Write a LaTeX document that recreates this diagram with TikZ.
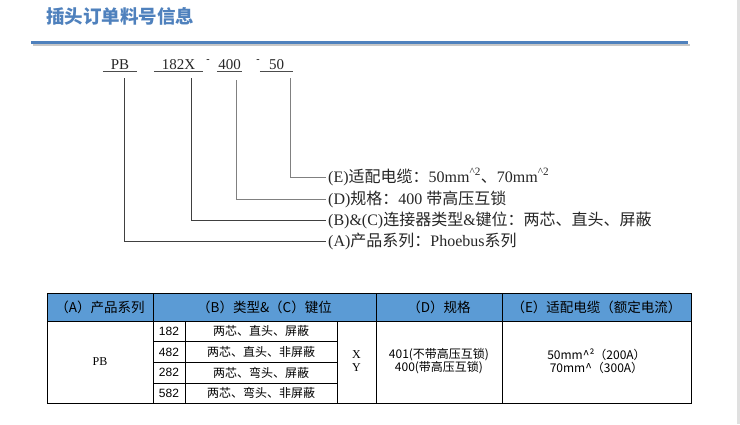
\documentclass[tikz,border=0pt]{standalone}
\usepackage{fontspec}
\setmainfont{Liberation Serif}
\setsansfont{Liberation Sans}
\newfontfamily\cjk{Noto Sans CJK SC}
\usetikzlibrary{positioning}
\definecolor{titleblue}{RGB}{79,129,189}
\definecolor{headblue}{RGB}{91,155,213}
\definecolor{edgegray}{RGB}{224,224,224}
\newcommand{\zh}[1]{{\cjk #1}}
\tikzset{
    code/.style={font=\fontsize{15}{15}\selectfont, inner sep=0pt, text=black!85}, % part of the order code
    hyph/.style={font=\fontsize{10}{10}\selectfont, inner sep=0pt},
    lbl/.style={font=\fontsize{16}{16}\selectfont, inner sep=2pt, anchor=west, text=black!85},
    lead/.style={line width=0.8pt, black!75}, % leader lines
    leadlight/.style={line width=0.8pt, black!50},
    head/.style={font=\cjk\fontsize{13.5}{14}\selectfont},
    cell/.style={font=\cjk\fontsize{12}{13}\selectfont, align=center},
    num/.style={font=\sffamily\fontsize{12}{13}\selectfont},
    ser/.style={font=\rmfamily\fontsize{12}{13}\selectfont},
    grid/.style={line width=0.8pt, black},
}
\begin{document}
\begin{tikzpicture}[x=1pt, y=-1pt]
    \useasboundingbox (0,0) rectangle (740,424);
    \fill[edgegray] (737,0) rectangle (740,424);

    % title and rule
    \node[anchor=west, inner sep=0pt, text=titleblue, font=\cjk\bfseries\fontsize{18.5}{19}\selectfont] (title) at (46,16) {插头订单料号信息};
    \fill[black!22] (33,44) rectangle (690,46);
    \draw[titleblue, line width=3pt] (31,42) -- (688,42);

    % order code
    \node[code, anchor=base, minimum width=34pt] (pb) at (120,69) {PB};
    \node[code, anchor=base, minimum width=49pt] (ser) at (178.5,69) {182X};
    \node[hyph] (h1) at (208,61) {-};
    \node[code, anchor=base, minimum width=25pt] (spec) at (229.5,69) {400};
    \node[hyph] (h2) at (258,61) {-};
    \node[code, anchor=base, minimum width=33pt] (cab) at (276.5,69) {50};
    \foreach \n in {pb, ser, spec, cab}
        \draw[line width=0.8pt, black!70] ([yshift=-2pt]\n.base west) -- ([yshift=-2pt]\n.base east);

    % labels
    \node[lbl] (le) at (326,177) {(E)\zh{适配电缆：}50mm\textsuperscript{\textasciicircum2}\zh{、}70mm\textsuperscript{\textasciicircum2}};
    \node[lbl] (ld) at (326,199) {(D)\zh{规格：}400 \zh{带高压互锁}};
    \node[lbl] (lb) at (326,220) {(B)\&(C)\zh{连接器类型}\&\zh{键位：两芯、直头、屏蔽}};
    \node[lbl] (la) at (326,241) {(A)\zh{产品系列：}Phoebus\zh{系列}};

    \coordinate (pa) at (124,78);
    \coordinate (pbc) at (191,78);
    \coordinate (pd) at (236,80);
    \coordinate (pe) at (290,78);
    \draw[lead] (pa) |- (la.west);
    \draw[lead] (pbc) |- (lb.west);
    \draw[leadlight] (pd) |- (ld.west);
    \draw[leadlight] (pe) |- (le.west);

    % table
    \fill[headblue] (47,293) rectangle (691,321);
    \draw[grid] (47,293) rectangle (691,403);
    \draw[grid] (47,321) -- (691,321);
    \foreach \x in {153,376,502}
        \draw[grid] (\x,293) -- (\x,403);
    \foreach \x in {185,337}
        \draw[grid] (\x,321) -- (\x,403);
    \foreach \y in {341.7,362.3,383}
        \draw[grid] (153,\y) -- (337,\y);

    \node[head] (ha) at (100,307) {（A）产品系列};
    \node[head] (hb) at (264.5,307) {（B）类型\&（C）键位};
    \node[head] (hd) at (439,307) {（D）规格};
    \node[head] (he) at (596.5,307) {（E）适配电缆（额定电流）};

    \node[ser] (cpb) at (100,362) {PB};
    \node[num] (n1) at (169,331.3) {182};
    \node[num] (n2) at (169,352) {482};
    \node[num] (n3) at (169,372.6) {282};
    \node[num] (n4) at (169,393.2) {582};
    \node[cell] (c1) at (261,331.3) {两芯、直头、屏蔽};
    \node[cell] (c2) at (261,352) {两芯、直头、非屏蔽};
    \node[cell] (c3) at (261,372.6) {两芯、弯头、屏蔽};
    \node[cell] (c4) at (261,393.2) {两芯、弯头、非屏蔽};
    \node[ser, align=center] (xy) at (356.5,361) {X\\Y};
    \node[cell] (dv) at (439,361) {401(不带高压互锁)\\400(带高压互锁)};
    \node[cell] (ev) at (596.5,361) {50mm\textasciicircum²（200A）\\70mm\textasciicircum（300A）};
\end{tikzpicture}
\end{document}
